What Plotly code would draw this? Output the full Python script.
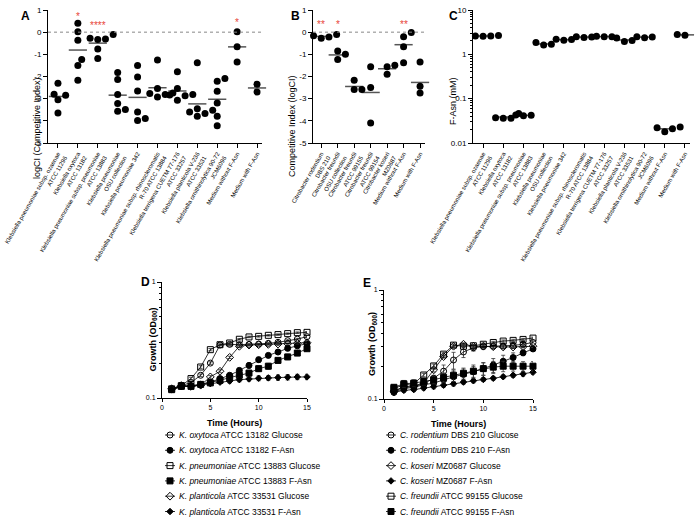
import numpy as np
import plotly.graph_objects as go

W, H = 696, 518
FONT = "Liberation Sans, Arial, sans-serif"
RED = "#e8473a"
GRAY = "#555555"

# ---------------- Data ----------------
A_labels = [
    "Klebsiella pneumoniae subsp. ozaenae<br>ATCC 11296",
    "Klebsiella oxytoca<br>ATCC 13182",
    "Klebsiella pneumoniae subsp. pneumoniae<br>ATCC 13883",
    "Klebsiella pneumoniae<br>OSU collection",
    "Klebsiella pneumoniae 342",
    "Klebsiella pneumoniae subsp. rhinoscleromatis<br>R-70 ATCC 13884",
    "Klebsiella terrigena CUETM 77-176<br>ATCC 33257",
    "Klebsiella planticola V-236<br>ATCC 33531",
    "Klebsiella ornithinolytica 90-72<br>JCM6096",
    "Medium without F-Asn",
    "Medium with F-Asn",
]
A_values = [
    [-2.30, -2.75, -2.80, -2.85, -3.05, -3.65],
    [0.40, 0.02, -0.36, -1.23, -1.50, -2.17],
    [-0.10, -0.28, -0.31, -0.33, -0.76, -1.19],
    [-1.82, -2.14, -2.81, -3.22, -3.49, -3.57],
    [-1.50, -2.02, -2.65, -3.60, -3.90, -3.98],
    [-1.26, -2.54, -2.74, -2.77, -2.81, -2.92],
    [-1.79, -2.54, -2.81, -2.87, -2.84, -3.07],
    [-1.38, -3.45, -3.52, -3.60, -3.67, -3.79],
    [-2.21, -2.09, -2.66, -3.19, -3.79, -4.22],
    [0.02, -0.66, -1.35],
    [-2.35, -2.50, -2.70],
]
A_stars = {1: "*", 2: "****", 9: "*"}
A_star_y = {1: 0.72, 2: 0.28, 9: 0.42}

B_labels = [
    "Citrobacter rodentium<br>DBS 210",
    "Citrobacter freundii<br>OSU collection",
    "Citrobacter freundii<br>ATCC 99155",
    "Citrobacter freundii<br>ATCC 99154",
    "Citrobacter koseri<br>MZ0687",
    "Medium without F-Asn",
    "Medium with F-Asn",
]
B_values = [
    [-0.10, -0.16, -0.22, -0.28],
    [-0.85, -1.00, -1.23],
    [-2.17, -2.59, -2.59],
    [-1.56, -2.50, -4.10],
    [-1.90, -1.49, -1.56],
    [-0.21, -0.01, -0.66, -1.38],
    [-1.35, -2.44, -2.54, -2.74],
]
B_stars = {0: "**", 1: "*", 5: "**"}
B_star_y = {0: 0.33, 1: 0.33, 5: 0.33}

C_values = [
    [2.55, 2.65, 2.60, 2.58],
    [0.046, 0.036, 0.037, 0.036],
    [0.043, 0.041, 0.042],
    [1.85, 1.62, 1.68],
    [2.15, 2.08, 2.20],
    [2.40, 2.45, 2.50],
    [2.50, 2.48, 2.55],
    [2.35, 1.95, 2.05],
    [2.50, 2.38, 2.45],
    [0.023, 0.018, 0.022, 0.021],
    [2.75, 2.80, 2.70],
]
C_threshold = 0.055

hours = [1, 2, 3, 4, 5, 6, 7, 8, 9, 10, 11, 12, 13, 14, 15]

D_series = [
    ("<i>K. oxytoca</i> ATCC 13182 Glucose", "circle-open", 6,
     [0.120, 0.128, 0.136, 0.157, 0.200, 0.286, 0.290, 0.288, 0.290, 0.292, 0.296, 0.302, 0.312, 0.322, 0.338],
     [0.004, 0.003, 0.003, 0.004, 0.005, 0.005, 0.004, 0.004, 0.004, 0.004, 0.004, 0.004, 0.005, 0.005, 0.006]),
    ("<i>K. oxytoca</i> ATCC 13182 F-Asn", "circle", 6,
     [0.118, 0.126, 0.128, 0.131, 0.137, 0.147, 0.157, 0.173, 0.191, 0.214, 0.233, 0.249, 0.268, 0.282, 0.294],
     [0.004, 0.003, 0.003, 0.004, 0.004, 0.005, 0.006, 0.008, 0.010, 0.011, 0.010, 0.010, 0.012, 0.012, 0.012]),
    ("<i>K. pneumoniae</i> ATCC 13883 Glucose", "square-open", 6,
     [0.120, 0.128, 0.147, 0.185, 0.261, 0.288, 0.298, 0.321, 0.336, 0.340, 0.347, 0.352, 0.359, 0.366, 0.368],
     [0.004, 0.003, 0.004, 0.005, 0.006, 0.005, 0.005, 0.005, 0.005, 0.005, 0.005, 0.005, 0.005, 0.005, 0.006]),
    ("<i>K. pneumoniae</i> ATCC 13883 F-Asn", "square", 6,
     [0.118, 0.126, 0.126, 0.131, 0.135, 0.142, 0.150, 0.157, 0.164, 0.179, 0.188, 0.211, 0.226, 0.244, 0.266],
     [0.004, 0.003, 0.003, 0.004, 0.005, 0.006, 0.007, 0.008, 0.009, 0.010, 0.011, 0.011, 0.012, 0.012, 0.013]),
    ("<i>K. planticola</i> ATCC 33531 Glucose", "diamond-open", 6,
     [0.120, 0.128, 0.126, 0.129, 0.152, 0.170, 0.224, 0.279, 0.286, 0.288, 0.290, 0.292, 0.294, 0.296, 0.300],
     [0.004, 0.003, 0.003, 0.003, 0.004, 0.005, 0.005, 0.005, 0.004, 0.004, 0.004, 0.004, 0.004, 0.004, 0.005]),
    ("<i>K. planticola</i> ATCC 33531 F-Asn", "diamond", 5,
     [0.118, 0.126, 0.126, 0.129, 0.133, 0.137, 0.140, 0.144, 0.146, 0.148, 0.149, 0.150, 0.151, 0.152, 0.152],
     [0.004, 0.003, 0.003, 0.003, 0.004, 0.004, 0.005, 0.006, 0.006, 0.007, 0.007, 0.008, 0.008, 0.008, 0.008]),
]

E_series = [
    ("<i>C. rodentium</i> DBS 210 Glucose", "circle-open", 6,
     [0.118, 0.128, 0.130, 0.138, 0.155, 0.180, 0.228, 0.270, 0.295, 0.303, 0.305, 0.306, 0.310, 0.318, 0.330],
     [0.006, 0.006, 0.006, 0.008, 0.010, 0.025, 0.040, 0.030, 0.020, 0.015, 0.015, 0.015, 0.020, 0.020, 0.020]),
    ("<i>C. rodentium</i> DBS 210 F-Asn", "circle", 6,
     [0.115, 0.125, 0.128, 0.135, 0.140, 0.150, 0.160, 0.168, 0.178, 0.190, 0.205, 0.222, 0.240, 0.265, 0.288],
     [0.005, 0.006, 0.006, 0.008, 0.010, 0.015, 0.020, 0.020, 0.020, 0.025, 0.030, 0.030, 0.025, 0.015, 0.012]),
    ("<i>C. koseri</i> MZ0687 Glucose", "diamond-open", 6,
     [0.118, 0.130, 0.132, 0.140, 0.185, 0.245, 0.305, 0.318, 0.305, 0.305, 0.302, 0.300, 0.300, 0.302, 0.305],
     [0.006, 0.006, 0.006, 0.006, 0.008, 0.008, 0.008, 0.008, 0.008, 0.008, 0.008, 0.008, 0.008, 0.008, 0.008]),
    ("<i>C. koseri</i> MZ0687 F-Asn", "diamond", 5,
     [0.115, 0.120, 0.122, 0.126, 0.130, 0.134, 0.138, 0.143, 0.147, 0.151, 0.155, 0.160, 0.165, 0.170, 0.176],
     [0.005, 0.005, 0.005, 0.005, 0.006, 0.006, 0.006, 0.006, 0.006, 0.006, 0.006, 0.006, 0.007, 0.008, 0.008]),
    ("<i>C. freundii</i> ATCC 99155 Glucose", "square-open", 6,
     [0.125, 0.135, 0.138, 0.166, 0.201, 0.258, 0.312, 0.305, 0.308, 0.318, 0.330, 0.340, 0.345, 0.352, 0.362],
     [0.006, 0.006, 0.006, 0.006, 0.008, 0.008, 0.008, 0.008, 0.008, 0.008, 0.008, 0.008, 0.008, 0.008, 0.008]),
    ("<i>C. freundii</i> ATCC 99155 F-Asn", "square", 6,
     [0.128, 0.138, 0.140, 0.145, 0.150, 0.158, 0.165, 0.172, 0.180, 0.190, 0.196, 0.200, 0.200, 0.200, 0.200],
     [0.006, 0.010, 0.010, 0.010, 0.012, 0.015, 0.020, 0.020, 0.025, 0.025, 0.025, 0.022, 0.020, 0.020, 0.020]),
]

# ---------------- Layout helpers ----------------
def dom_x(a, b):
    return [a / W, b / W]

def dom_y(top, bottom):
    return [1 - bottom / H, 1 - top / H]

def swarm_offsets(vals, ppx, ppy, diam=7.0):
    vals = np.asarray(vals, float)
    order = np.argsort(vals)
    placed = []
    offs = np.zeros(len(vals))
    step = diam * 0.55
    cands = [0.0]
    for j in range(1, 20):
        cands += [j * step, -j * step]
    for idx in order:
        yy = vals[idx] * ppy
        chosen = cands[-1]
        for c in cands:
            if all((c - px) ** 2 + (yy - py) ** 2 >= (diam * 0.92) ** 2 for px, py in placed):
                chosen = c
                break
        placed.append((chosen, yy))
        offs[idx] = chosen / ppx
    return offs

fig = go.Figure()

GEO = {
    "A": dict(x=(48, 262), y=(10, 143), xr=[-0.5, 10.25], yr=[-5, 1]),
    "B": dict(x=(313, 425), y=(10, 143), xr=[-0.5, 6.3], yr=[-5, 1]),
    "C": dict(x=(473, 690), y=(10, 143), xr=[-0.5, 10.25], yr=[-2, 1]),
}

def add_dot_panel(values, geo, xa, ya, log=False):
    ppx = (geo["x"][1] - geo["x"][0]) / (geo["xr"][1] - geo["xr"][0])
    ppy = (geo["y"][1] - geo["y"][0]) / (geo["yr"][1] - geo["yr"][0])
    xs, ys, mx, my = [], [], [], []
    for i, v in enumerate(values):
        vv = np.log10(v) if log else np.asarray(v, float)
        offs = swarm_offsets(vv, ppx, ppy)
        xs += list(i + offs)
        ys += list(v)
        mx.append(i)
        my.append(10 ** np.mean(vv) if log else float(np.mean(vv)))
    fig.add_trace(go.Scatter(x=mx, y=my, mode="markers", xaxis=xa, yaxis=ya,
                             marker=dict(symbol="line-ew-open", size=13, color=GRAY,
                                         line=dict(color=GRAY, width=1.5)),
                             cliponaxis=False, showlegend=False, hoverinfo="skip"))
    fig.add_trace(go.Scatter(x=xs, y=ys, mode="markers", xaxis=xa, yaxis=ya,
                             marker=dict(symbol="circle", size=7, color="black"),
                             cliponaxis=False, showlegend=False))

add_dot_panel(A_values, GEO["A"], "x", "y")
add_dot_panel(B_values, GEO["B"], "x2", "y2")
add_dot_panel(C_values, GEO["C"], "x3", "y3", log=True)

def add_growth(series, xa, ya):
    for name, sym, size, vals, err in series:
        fig.add_trace(go.Scatter(
            x=hours, y=vals, mode="lines+markers", xaxis=xa, yaxis=ya,
            line=dict(color="black", width=0.8),
            marker=dict(symbol=sym, size=size, color="black",
                        line=dict(color="black", width=1)),
            error_y=dict(type="data", array=err, thickness=0.8, width=2, color="#333333"),
            cliponaxis=False, showlegend=False, name=name))

add_growth(D_series, "x4", "y4")
add_growth(E_series, "x5", "y5")

def add_legend(series, xa, ya, text_x):
    anns = []
    for i, (name, sym, size, vals, err) in enumerate(series):
        fig.add_trace(go.Scatter(x=[-1, 1], y=[i, i], mode="lines", xaxis=xa, yaxis=ya,
                                 line=dict(color="black", width=0.8),
                                 showlegend=False, hoverinfo="skip", cliponaxis=False))
        fig.add_trace(go.Scatter(x=[0], y=[i], mode="markers", xaxis=xa, yaxis=ya,
                                 marker=dict(symbol=sym, size=size, color="black",
                                             line=dict(color="black", width=1)),
                                 showlegend=False, hoverinfo="skip", cliponaxis=False))
        anns.append(dict(x=text_x / W, y=i, xref="paper", yref=ya, text=name,
                         showarrow=False, xanchor="left", yanchor="middle",
                         font=dict(size=8.5, family=FONT, color="black")))
    return anns

leg_yr = [(518 - 435) / 15.3, (428 - 435) / 15.3]
anns = []
anns += add_legend(D_series, "x6", "y6", 177)
anns += add_legend(E_series, "x7", "y7", 398)

axis_common = dict(showline=True, linecolor="black", linewidth=1, ticks="outside",
                   ticklen=4, tickwidth=1, tickcolor="black", showgrid=False,
                   zeroline=False, automargin=False,
                   tickfont=dict(size=8, family=FONT, color="black"))

def cat_axis(geo, labels, anchor):
    d = dict(axis_common)
    d.update(domain=dom_x(*geo["x"]), range=geo["xr"], anchor=anchor,
             tickmode="array", tickvals=list(range(len(labels))), ticktext=labels,
             tickangle=-60, tickfont=dict(size=6, family=FONT, color="black"))
    return d

A_yticks = [-5, -4, -3, -2, -1, 0, 1]
A_yticktext = ["-5", "-4", "-3", "-2", "-1", "0", "1"]
C_yticks = [0.01, 0.1, 1, 10]
C_yticktext = ["0.01", "0.1", "1", "10"]
log_minor = [0.02, 0.03, 0.04, 0.05, 0.06, 0.07, 0.08, 0.09,
             0.2, 0.3, 0.4, 0.5, 0.6, 0.7, 0.8, 0.9,
             2, 3, 4, 5, 6, 7, 8, 9]
G_xticks = [0, 5, 10, 15]
G_yticks = [0.1, 1]
G_yticktext = ["0.1", "1"]

def y_lin(geo, anchor):
    d = dict(axis_common)
    d.update(domain=dom_y(*geo["y"]), range=geo["yr"], anchor=anchor,
             tickmode="array", tickvals=A_yticks, ticktext=A_yticktext)
    return d

yC = dict(axis_common)
yC.update(domain=dom_y(*GEO["C"]["y"]), type="log", range=[-2, 1], anchor="x3",
          tickmode="array", tickvals=C_yticks, ticktext=C_yticktext,
          minor=dict(tickvals=log_minor, ticks="outside", ticklen=2, tickcolor="black"))

def g_x(a, b, anchor):
    d = dict(axis_common)
    d.update(domain=dom_x(a, b), range=[0, 15.0], anchor=anchor, ticklen=3,
             tickmode="array", tickvals=G_xticks, tickfont=dict(size=7, family=FONT, color="black"))
    return d

def g_y(top, bottom, anchor):
    d = dict(axis_common)
    d.update(domain=dom_y(top, bottom), type="log", range=[-1, 0], anchor=anchor,
             tickmode="array", tickvals=G_yticks, ticktext=G_yticktext,
             tickfont=dict(size=7, family=FONT, color="black"),
             minor=dict(tickvals=log_minor, ticks="outside", ticklen=2, tickcolor="black"))
    return d

hidden = dict(visible=False, fixedrange=True, showgrid=False, zeroline=False, automargin=False)

layout = dict(
    width=W, height=H, margin=dict(l=0, r=0, t=0, b=0, autoexpand=False),
    paper_bgcolor="white", plot_bgcolor="white",
    font=dict(family=FONT, color="black"),
    showlegend=False,
    xaxis=cat_axis(GEO["A"], A_labels, "y"),
    yaxis=y_lin(GEO["A"], "x"),
    xaxis2=cat_axis(GEO["B"], B_labels, "y2"),
    yaxis2=y_lin(GEO["B"], "x2"),
    xaxis3=cat_axis(GEO["C"], A_labels, "y3"),
    yaxis3=yC,
    xaxis4=g_x(162, 307, "y4"),
    yaxis4=g_y(282, 398, "x4"),
    xaxis5=g_x(384, 533, "y5"),
    yaxis5=g_y(290, 399, "x5"),
    xaxis6=dict(hidden, domain=dom_x(165, 175), range=[-1, 1], anchor="y6"),
    yaxis6=dict(hidden, domain=dom_y(428, 518), range=leg_yr, anchor="x6"),
    xaxis7=dict(hidden, domain=dom_x(386, 396), range=[-1, 1], anchor="y7"),
    yaxis7=dict(hidden, domain=dom_y(428, 518), range=leg_yr, anchor="x7"),
)

shapes = [
    dict(type="line", xref="x domain", yref="y", x0=0, x1=1, y0=0, y1=0,
         line=dict(color="#888888", width=1, dash="dot")),
    dict(type="line", xref="x2 domain", yref="y2", x0=0, x1=1, y0=0, y1=0,
         line=dict(color="#888888", width=1, dash="dot")),
    dict(type="line", xref="x3 domain", yref="y3", x0=0, x1=1,
         y0=float(np.log10(C_threshold)), y1=float(np.log10(C_threshold)),
         line=dict(color="#888888", width=1, dash="dot")),
]

def pa(x, y, text, size=12, bold=True, angle=0, **kw):
    t = f"<b>{text}</b>" if bold else text
    d = dict(x=x / W, y=1 - y / H, xref="paper", yref="paper", text=t, showarrow=False,
             textangle=angle, font=dict(size=size, family=FONT, color="black"))
    d.update(kw)
    return d

anns += [
    pa(19, 7, "A"), pa(295, 7, "B"), pa(454, 7, "C"), pa(139, 282, "D"), pa(367, 283, "E"),
    pa(30, 75, "logCI (Competitive Index)", size=9, bold=False, angle=-90),
    pa(292, 73, "Competitive Index (logCI)", size=9, bold=False, angle=-90),
    pa(453, 75, "F-Asn (mM)", size=9, bold=False, angle=-90),
    pa(145, 340, "Growth (OD<sub>600</sub>)", size=9, angle=-90),
    pa(372, 344, "Growth (OD<sub>600</sub>)", size=9, angle=-90),
    pa(234, 416, "Time (Hours)", size=9, yanchor="top"),
    pa(458, 417, "Time (Hours)", size=9, yanchor="top"),
]

for i, s in A_stars.items():
    anns.append(dict(x=i, y=A_star_y[i], xref="x", yref="y", text=s, showarrow=False,
                     yanchor="middle", font=dict(size=10, family=FONT, color=RED)))
for i, s in B_stars.items():
    anns.append(dict(x=i, y=B_star_y[i], xref="x2", yref="y2", text=s, showarrow=False,
                     yanchor="middle", font=dict(size=10, family=FONT, color=RED)))

layout["shapes"] = shapes
layout["annotations"] = anns
fig.update_layout(**layout)

fig.write_html("out.html", config={"displayModeBar": False},
               post_script="document.body.style.margin='0';document.body.style.padding='0';")
